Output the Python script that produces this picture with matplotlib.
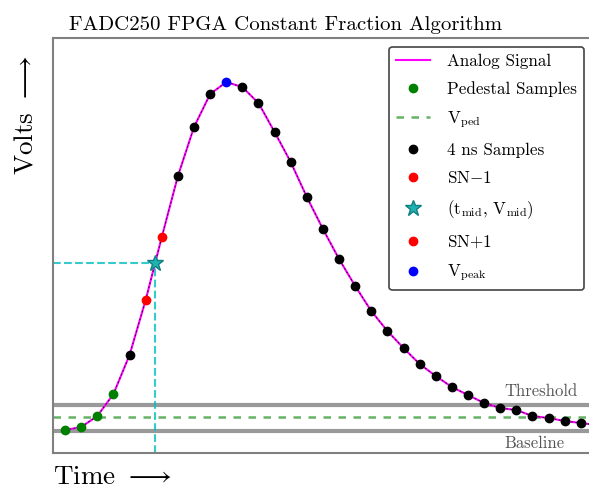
import matplotlib
matplotlib.use("Agg")
import matplotlib.pyplot as plt
import numpy as np

plt.rcParams['font.family'] = 'serif'
plt.rcParams['font.serif'] = ['cmr10', 'DejaVu Serif']
plt.rcParams['mathtext.fontset'] = 'cm'
plt.rcParams['axes.unicode_minus'] = False

# sample times (ns) and amplitudes (arbitrary units, baseline = 0)
t_samples = np.arange(0, 34) * 4
v_samples = [1, 4, 15, 37, 76, 131, 194, 255, 304, 337, 349, 344, 328, 299, 269,
             234, 202, 172, 145, 120, 100, 83, 67, 55, 44, 36, 28, 23, 21, 15,
             13, 10, 8, 6]

ped_idx = [0, 1, 2, 3]
sn_minus = 5
sn_plus = 6
peak_idx = 10

t_mid = 22.3
v_mid = 168
v_ped = 14
v_threshold = 26
v_baseline = 0

fig = plt.figure(figsize=(5.89, 4.88), dpi=100)
ax = fig.add_axes([0.09, 0.0717, 0.92, 0.8503])

# threshold / baseline / pedestal lines
ax.axhline(v_threshold, color='#999999', lw=3, zorder=1)
ax.axhline(v_baseline, color='#999999', lw=3, zorder=1)
ax.axhline(v_ped, color='green', alpha=0.6, ls='--', lw=1.8, dashes=(3, 3), zorder=1,
           label=r'V$_{\rm ped}$')

# constant fraction crossing guides
ax.plot([-3, t_mid], [v_mid, v_mid], color='c', ls='--', lw=1.5, alpha=0.8, zorder=2)
ax.plot([t_mid, t_mid], [-22, v_mid], color='c', ls='--', lw=1.5, alpha=0.8, zorder=2)

# analog signal
ax.plot(t_samples, v_samples, color='magenta', lw=1.5, zorder=3, label='Analog Signal')
ax.plot(t_samples, v_samples, color='k', lw=0.6, ls='--', dashes=(2, 3), zorder=3)

t = np.array(t_samples)
v = np.array(v_samples)
other = [i for i in range(len(t)) if i not in ped_idx + [sn_minus, sn_plus, peak_idx]]

ax.plot(t[ped_idx], v[ped_idx], 'o', color='green', ms=6, ls='none', zorder=4,
        label='Pedestal Samples')
ax.plot(t[other], v[other], 'o', color='k', ms=6, ls='none', zorder=4,
        label='4 ns Samples')
ax.plot(t[sn_minus], v[sn_minus], 'o', color='red', ms=6, ls='none', zorder=4,
        label=r'SN$-$1')
ax.plot(t_mid, v_mid, '*', color='#20b2b2', mec='#108080', ms=12, ls='none', zorder=5,
        label=r'(t$_{\rm mid}$, V$_{\rm mid}$)')
ax.plot(t[sn_plus], v[sn_plus], 'o', color='red', ms=6, ls='none', zorder=4,
        label=r'SN$+$1')
ax.plot(t[peak_idx], v[peak_idx], 'o', color='blue', ms=6, ls='none', zorder=4,
        label=r'V$_{\rm peak}$')

ax.text(109.0, v_threshold + 6, 'Threshold', fontsize=12, color='#555555', va='bottom')
ax.text(109.0, v_baseline - 5, 'Baseline', fontsize=12, color='#555555', va='top')

ax.set_xlim(-3, 131.5)
ax.set_ylim(-22, 393)
ax.set_xticks([])
ax.set_yticks([])
for s in ax.spines.values():
    s.set_color('#808080')
    s.set_linewidth(1.5)

ax.set_title('FADC250 FPGA Constant Fraction Algorithm', fontsize=15, x=0.43, pad=6)

fig.text(53 / 589, 1 - 477 / 488, r'Time $\longrightarrow$', fontsize=19.5, ha='left', va='center')
fig.text(26 / 589, 1 - 115 / 488, r'Volts $\longrightarrow$', fontsize=19.5, rotation=90,
         ha='center', va='center')

handles, labels = ax.get_legend_handles_labels()
order = ['Analog Signal', 'Pedestal Samples', r'V$_{\rm ped}$', '4 ns Samples', r'SN$-$1',
         r'(t$_{\rm mid}$, V$_{\rm mid}$)', r'SN$+$1', r'V$_{\rm peak}$']
hmap = dict(zip(labels, handles))
leg = ax.legend([hmap[k] for k in order], order, loc='upper right',
                bbox_to_anchor=(584 / 589, 1 - 47 / 488), bbox_transform=fig.transFigure,
                borderaxespad=0, fontsize=12.3, labelspacing=0.72, fancybox=True,
                framealpha=1, edgecolor='#444444', handletextpad=1.0)
leg.get_frame().set_linewidth(1.2)

fig.savefig('out.png', dpi=100)
